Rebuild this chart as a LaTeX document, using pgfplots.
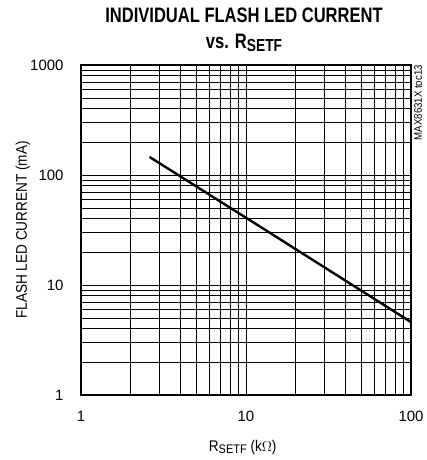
\documentclass[border=0pt]{standalone}
\usepackage{pgfplots}
\pgfplotsset{compat=1.18}
\usepackage{fontspec}
\setmainfont{Liberation Sans}
\newfontfamily\narrowfont{Liberation Sans}[FakeStretch=0.88]
\newfontfamily\titlefont{Liberation Sans}[FakeStretch=0.79]
\begin{document}
\begin{tikzpicture}
\begin{axis}[
  at={(0,0)}, anchor=south west,
  scale only axis,
  width=330bp, height=330bp,
  xmode=log, ymode=log,
  xmin=1, xmax=100, ymin=1, ymax=1000,
  axis line style={line width=2bp},
  major tick length=0pt, minor tick length=0pt,
  grid=both,
  major grid style={black, line width=0.9bp},
  minor grid style={black, line width=0.65bp},
  xtick={1,10,100}, xticklabels={1,10,100},
  ytick={1,10,100,1000}, yticklabels={1,10,100,1000},
  ticklabel style={font=\fontsize{15}{17}\selectfont},
  xticklabel style={yshift=-13bp},
  yticklabel style={xshift=-14bp},
  xlabel={R\raisebox{-2bp}{\fontsize{12.5}{14}\selectfont SETF} (k$\Omega$)},
  ylabel={FLASH LED CURRENT (mA)},
  label style={font=\narrowfont\fontsize{15.5}{18}\selectfont},
  xlabel style={at={(axis description cs:0.49,-0.1606)}, anchor=center},
  ylabel style={at={(axis description cs:-0.176,0.5)}, anchor=center},
]
\addplot[black, line width=2.4bp] coordinates {
  (2.6,146) (10,40.9) (100,4.6)
};
\end{axis}
\node[font=\titlefont\bfseries\fontsize{21}{24}\selectfont] at (163bp,380bp) {INDIVIDUAL FLASH LED CURRENT};
\node[font=\titlefont\bfseries\fontsize{21}{24}\selectfont] at (163bp,352bp) {vs. R\raisebox{-3bp}{\fontsize{17.5}{20}\selectfont SETF}};
\node[rotate=90, anchor=east, font=\narrowfont\fontsize{11}{12}\selectfont, inner sep=0pt] at (337bp,330bp) {MAX8631X toc13};
\path[use as bounding box] (-81bp,-65bp) rectangle (340bp,395bp);
\end{tikzpicture}
\end{document}
